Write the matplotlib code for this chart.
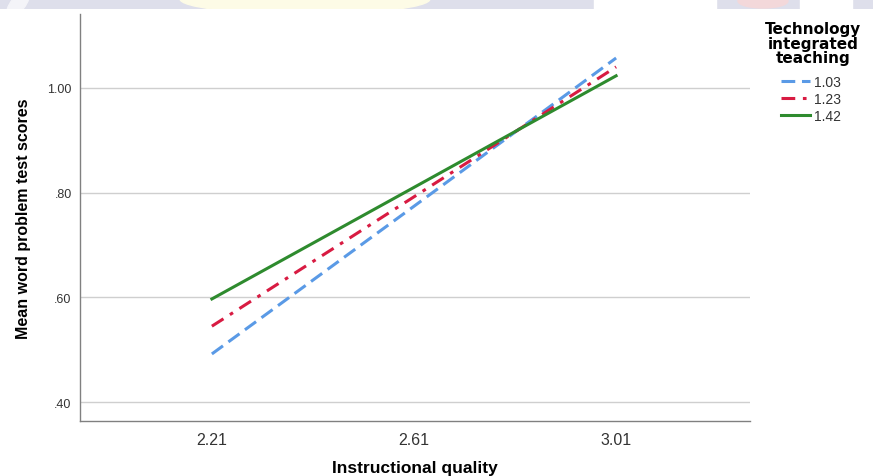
import matplotlib
matplotlib.use("Agg")
import matplotlib.pyplot as plt
from matplotlib.patches import Rectangle, Ellipse

# Estimated marginal means for the interaction plot
quality = [2.21, 2.61, 3.01]
quality_labels = ["2.21", "2.61", "3.01"]
tech_levels = ["1.03", "1.23", "1.42"]
means_103 = [0.492, 0.774, 1.057]
means_123 = [0.545, 0.792, 1.040]
means_142 = [0.597, 0.810, 1.023]

y_ticks = [0.40, 0.60, 0.80, 1.00]
y_tick_labels = [".40", ".60", ".80", "1.00"]

plt.rcParams["font.family"] = ["Liberation Sans", "DejaVu Sans"]

fig = plt.figure(figsize=(8.73, 4.77), dpi=100)

# faint banner strip along the top edge (pixel coordinates inside its own axes)
band = fig.add_axes([0, 1 - 10 / 477, 1, 10 / 477])
band.set_xlim(0, 873)
band.set_ylim(0, 10)
band.axis("off")
band.add_patch(Rectangle((0, 0), 873, 10, color="#dedfeb"))
band.add_patch(Ellipse((18, 5), 14, 30, angle=-40, color="#f4f4f8"))
band.add_patch(Ellipse((305, 10), 250, 30, color="#fdfbe6"))
band.add_patch(Rectangle((594, 0), 122, 10, color="white"))
band.add_patch(Ellipse((763, 8), 50, 14, color="#f3d8da"))
band.add_patch(Rectangle((800, 0), 52, 10, color="white"))

ax = fig.add_axes([80 / 873, 1 - 422 / 477, 670 / 873, 407 / 477])

ax.plot(quality, means_103, color="#5a9ae6", lw=2.2, dashes=(4.5, 2.2), label=tech_levels[0])
ax.plot(quality, means_123, color="#d81b42", lw=2.2, dashes=(4.5, 2.5, 1.2, 2.5), label=tech_levels[1])
ax.plot(quality, means_142, color="#2e8b2e", lw=2.2, label=tech_levels[2])

ax.set_xlim(1.949, 3.275)
ax.set_ylim(0.364, 1.141)

ax.set_xticks(quality)
ax.set_xticklabels(quality_labels, fontsize=11.5, color="#333333")
ax.set_yticks(y_ticks)
ax.set_yticklabels(y_tick_labels, fontsize=9, color="#333333")
ax.tick_params(axis="both", length=0)
ax.tick_params(axis="y", pad=6)
ax.tick_params(axis="x", pad=8)

ax.grid(axis="y", color="#cfcfcf", lw=1.0)
ax.set_axisbelow(True)
for side in ["top", "right"]:
    ax.spines[side].set_visible(False)
for side in ["left", "bottom"]:
    ax.spines[side].set_color("#808080")
    ax.spines[side].set_linewidth(1.0)

ax.set_xlabel("Instructional quality", fontsize=12.5, fontweight="bold", labelpad=9)
ax.set_ylabel("Mean word problem test scores", fontsize=11.5, fontweight="bold",
              family=["Liberation Sans Narrow", "Liberation Sans"], labelpad=12)

# legend title drawn separately so the gap above the entries can be set freely
fig.text(813 / 873, 1 - 44 / 477, "Technology\nintegrated\nteaching", ha="center", va="center",
         fontsize=11, fontweight="bold", family="DejaVu Sans", linespacing=0.92)
leg = ax.legend(loc="upper left", bbox_to_anchor=(781 / 873, 1 - 76 / 477),
                bbox_transform=fig.transFigure, frameon=False, fontsize=10,
                handlelength=2.1, handletextpad=0.25, labelspacing=0.2,
                borderaxespad=0, borderpad=0)
for t in leg.get_texts():
    t.set_color("#333333")

fig.savefig("out.png", dpi=100)
